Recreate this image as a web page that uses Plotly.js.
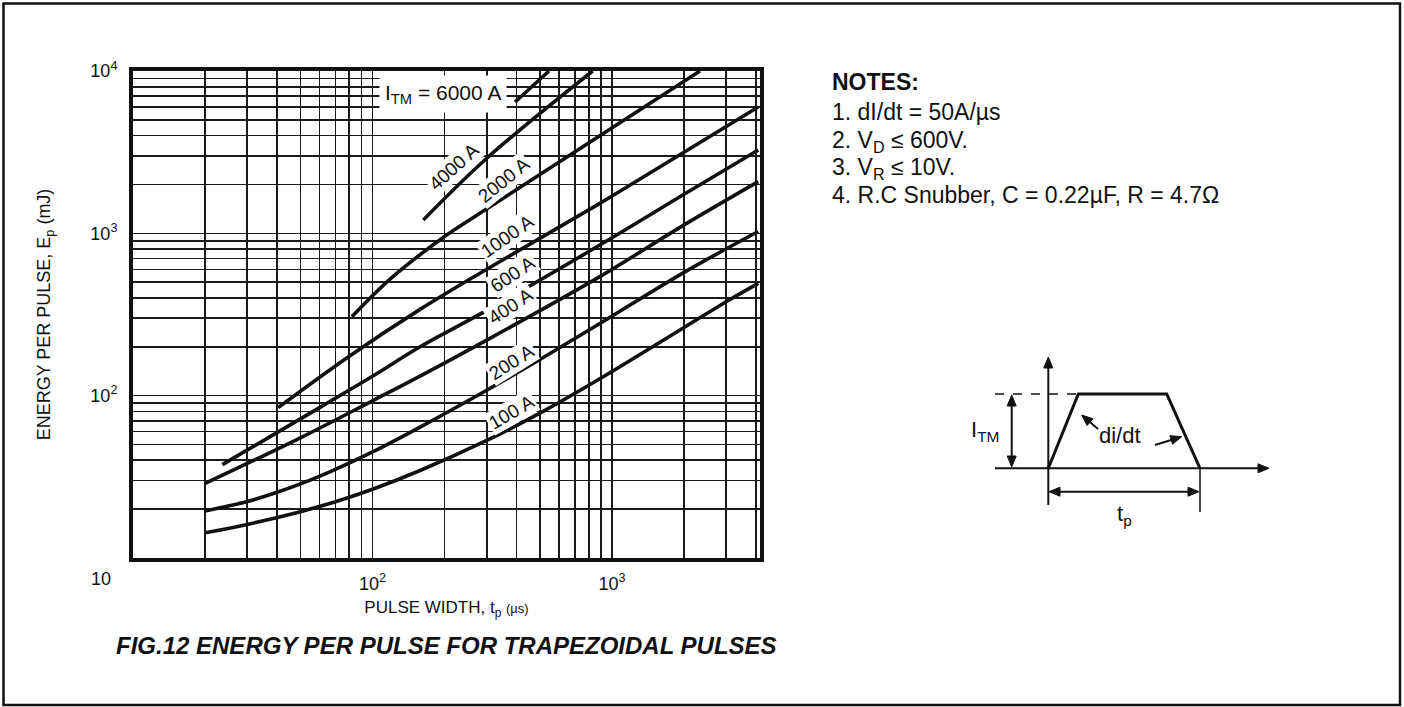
<!DOCTYPE html>
<html><head><meta charset="utf-8">
<script src="https://cdn.plot.ly/plotly-3.0.1.min.js"></script>
<style>html,body{margin:0;padding:0;background:#fff;} #chart{width:1404px;height:707px;}</style>
</head><body><div id="chart"></div>
<script>
// ---- data (pulse width in µs, energy in mJ) ----
const tp100 = [20, 30, 50, 70, 100, 158, 300, 500, 890, 2000, 3060, 4080];
const ep100 = [14.3, 16.1, 19.3, 22.2, 26.5, 34.6, 53, 78, 127, 263, 386, 492];
const tp200 = [20, 30, 40, 60, 100, 158, 300, 500, 890, 2000, 4080];
const ep200 = [19.5, 22.3, 25.4, 31.8, 45, 64, 108, 167, 278, 575, 1026];
const tp400 = [20, 50, 100, 158, 300, 890, 2000, 4080];
const ep400 = [28.8, 55, 93, 132, 220, 541, 1128, 2084];
const tp600 = [23.6, 50, 100, 158, 300, 890, 2000, 4080];
const ep600 = [37.6, 72, 131.6, 200, 335, 847, 1740, 3260];
const tp1000 = [40.4, 80, 158, 281, 890, 1510, 4080];
const ep1000 = [84.5, 175, 340, 568, 1530, 2455, 6000];
const tp2000 = [82, 120, 198, 281, 2330];
const ep2000 = [306, 531, 945, 1328, 10000];
const tp4000 = [163, 300, 830];
const ep4000 = [1208, 2900, 10000];
const tp6000 = [394, 546];
const ep6000 = [6440, 10000];

const curveNames = ['100 A', '200 A', '400 A', '600 A', '1000 A', '2000 A', '4000 A', '6000 A'];
const curveX = [tp100, tp200, tp400, tp600, tp1000, tp2000, tp4000, tp6000];
const curveY = [ep100, ep200, ep400, ep600, ep1000, ep2000, ep4000, ep6000];

const xTickVals = [100, 1000];
const xTickText = ['10<sup>2</sup>', '10<sup>3</sup>'];
const xMinorVals = [10,20,30,40,50,60,70,80,90,200,300,400,500,600,700,800,900,2000,3000,4000];
const yTickVals = [100, 1000, 10000];
const yTickText = ['10<sup>2</sup>', '10<sup>3</sup>', '10<sup>4</sup>'];
const yMinorVals = [10,20,30,40,50,60,70,80,90,200,300,400,500,600,700,800,900,2000,3000,4000,5000,6000,7000,8000,9000];

const noteLines = ['<b>NOTES:</b>', '1. dI/dt = 50A/µs', '2. V<sub>D</sub> ≤ 600V.', '3. V<sub>R</sub> ≤ 10V.', '4. R.C Snubber, C = 0.22µF, R = 4.7Ω'];

// ---- layout helpers (pixel -> paper) ----
const L = 133, R = 760, T = 71, B = 558;
const fx = x => (x - L) / (R - L);
const fy = y => (B - y) / (B - T);
const FONT = 'Liberation Sans, Arial, Helvetica, sans-serif';
const INK = '#111';

const traces = curveX.map((xs, i) => ({
  x: xs, y: curveY[i], name: curveNames[i], type: 'scatter', mode: 'lines',
  line: {color: INK, width: 3.6, shape: 'spline', smoothing: 1.0},
  hoverinfo: 'skip', showlegend: false
}));

// curve labels (pixel positions of label centres, angle)
const labelPos = [
  ['100 A', 511, 412, -30], ['200 A', 511, 362, -32], ['400 A', 510, 306, -33],
  ['600 A', 512, 274, -34], ['1000 A', 507, 237, -35], ['2000 A', 503, 180, -39],
  ['4000 A', 453, 167, -42]
];

const ann = [];
const txt = (text, x, y, size, extra) => Object.assign({
  text: text, xref: 'paper', yref: 'paper', x: fx(x), y: fy(y),
  xanchor: 'center', yanchor: 'middle', showarrow: false,
  font: {family: FONT, size: size, color: INK}
}, extra || {});

labelPos.forEach(p => ann.push(txt(p[0], p[1], p[2], 19, {textangle: p[3], bgcolor: '#fff', borderpad: 1})));
ann.push(txt('I<sub>TM</sub> = 6000 A', 443, 94, 21, {bgcolor: '#fff', borderpad: 5}));
ann.push(txt('10', 101, 579, 18));
ann.push(txt('<b><i>FIG.12 ENERGY PER PULSE FOR TRAPEZOIDAL PULSES</i></b>', 446, 645, 24));
const noteTops = [67, 97, 125, 152, 180];
noteLines.forEach((t, i) => ann.push(txt(t, 830, noteTops[i], 23, {xanchor: 'left', yanchor: 'top', align: 'left'})));
ann.push(txt('I<sub>TM</sub>', 985, 431, 22));
ann.push(txt('di/dt', 1120, 435, 22));
ann.push(txt('t<sub>p</sub>', 1124, 515, 22));

// ---- trapezoid pulse diagram as shapes ----
const P = (x, y) => fx(x).toFixed(5) + ',' + fy(y).toFixed(5);
const shapes = [];
const seg = (x0, y0, x1, y1, w, dash) => shapes.push({type: 'line', xref: 'paper', yref: 'paper',
  x0: fx(x0), y0: fy(y0), x1: fx(x1), y1: fy(y1), line: {color: INK, width: w, dash: dash || 'solid'}});
const head = (hx, hy, tx, ty) => {
  const dx = hx - tx, dy = hy - ty, d = Math.hypot(dx, dy), ux = dx / d, uy = dy / d;
  const len = 11, hw = 4.5;
  const bx = hx - ux * len, by = hy - uy * len;
  shapes.push({type: 'path', xref: 'paper', yref: 'paper', fillcolor: INK, line: {color: INK, width: 1},
    path: 'M' + P(hx, hy) + ' L' + P(bx - uy * hw, by + ux * hw) + ' L' + P(bx + uy * hw, by - ux * hw) + ' Z'});
  return [hx - ux * len * 0.7, hy - uy * len * 0.7];
};
const arrowShape = (hx, hy, tx, ty, both) => {
  const e = head(hx, hy, tx, ty);
  const s = both ? head(tx, ty, hx, hy) : [tx, ty];
  seg(s[0], s[1], e[0], e[1], 2);
};
arrowShape(1048.3, 357, 1048.3, 505, false);      // vertical axis
arrowShape(1269, 468.3, 995, 468.3, false);       // horizontal axis
arrowShape(1011.7, 395, 1011.7, 467, true);       // I_TM span
arrowShape(1199, 491.7, 1049, 491.7, true);       // t_p span
arrowShape(1081.7, 415, 1098, 429, false);        // di/dt left
arrowShape(1181.7, 436.7, 1155, 445, false);      // di/dt right
shapes.push({type: 'path', xref: 'paper', yref: 'paper',
  path: 'M' + P(1048.3, 468.3) + ' L' + P(1078.3, 394) + ' L' + P(1166.7, 394) + ' L' + P(1200, 468.3),
  line: {color: INK, width: 3}});
seg(995, 394, 1078, 394, 1.5, 'dash');
seg(1200, 468, 1200, 512, 1.5);
shapes.push({type: 'rect', xref: 'paper', yref: 'paper', x0: fx(3.5), y0: fy(705), x1: fx(1400), y1: fy(3.5),
  line: {color: INK, width: 2.5}});

const gridStyle = {gridcolor: '#1a1a1a', gridwidth: 1.6};
const layout = {
  width: 1404, height: 707,
  margin: {l: L, r: 1404 - R, t: T, b: 707 - B, pad: 0},
  paper_bgcolor: '#fff', plot_bgcolor: '#fff',
  font: {family: FONT, color: INK},
  showlegend: false,
  xaxis: Object.assign({
    type: 'log', range: [1, 3.618], autorange: false,
    tickmode: 'array', tickvals: xTickVals, ticktext: xTickText,
    ticks: '', ticklabelstandoff: 6, tickfont: {family: FONT, size: 18, color: INK},
    showgrid: true, zeroline: false,
    minor: Object.assign({tickmode: 'array', tickvals: xMinorVals, showgrid: true, ticks: ''}, gridStyle),
    showline: true, mirror: true, linecolor: INK, linewidth: 4,
    title: {text: 'PULSE WIDTH, t<sub>p</sub> <span style="font-size:13px;color:#111">(µs)</span>', standoff: 10,
            font: {family: FONT, size: 17, color: INK}}
  }, gridStyle),
  yaxis: Object.assign({
    type: 'log', range: [1, 4], autorange: false,
    tickmode: 'array', tickvals: yTickVals, ticktext: yTickText,
    ticks: '', ticklabelstandoff: 8, tickfont: {family: FONT, size: 18, color: INK},
    showgrid: true, zeroline: false,
    minor: Object.assign({tickmode: 'array', tickvals: yMinorVals, showgrid: true, ticks: ''}, gridStyle),
    showline: true, mirror: true, linecolor: INK, linewidth: 4,
    title: {text: 'ENERGY PER PULSE, E<sub>p</sub> (mJ)', standoff: 36,
            font: {family: FONT, size: 18, color: INK}}
  }, gridStyle),
  annotations: ann,
  shapes: shapes
};

Plotly.newPlot('chart', traces, layout, {staticPlot: true, displayModeBar: false});
</script></body></html>
